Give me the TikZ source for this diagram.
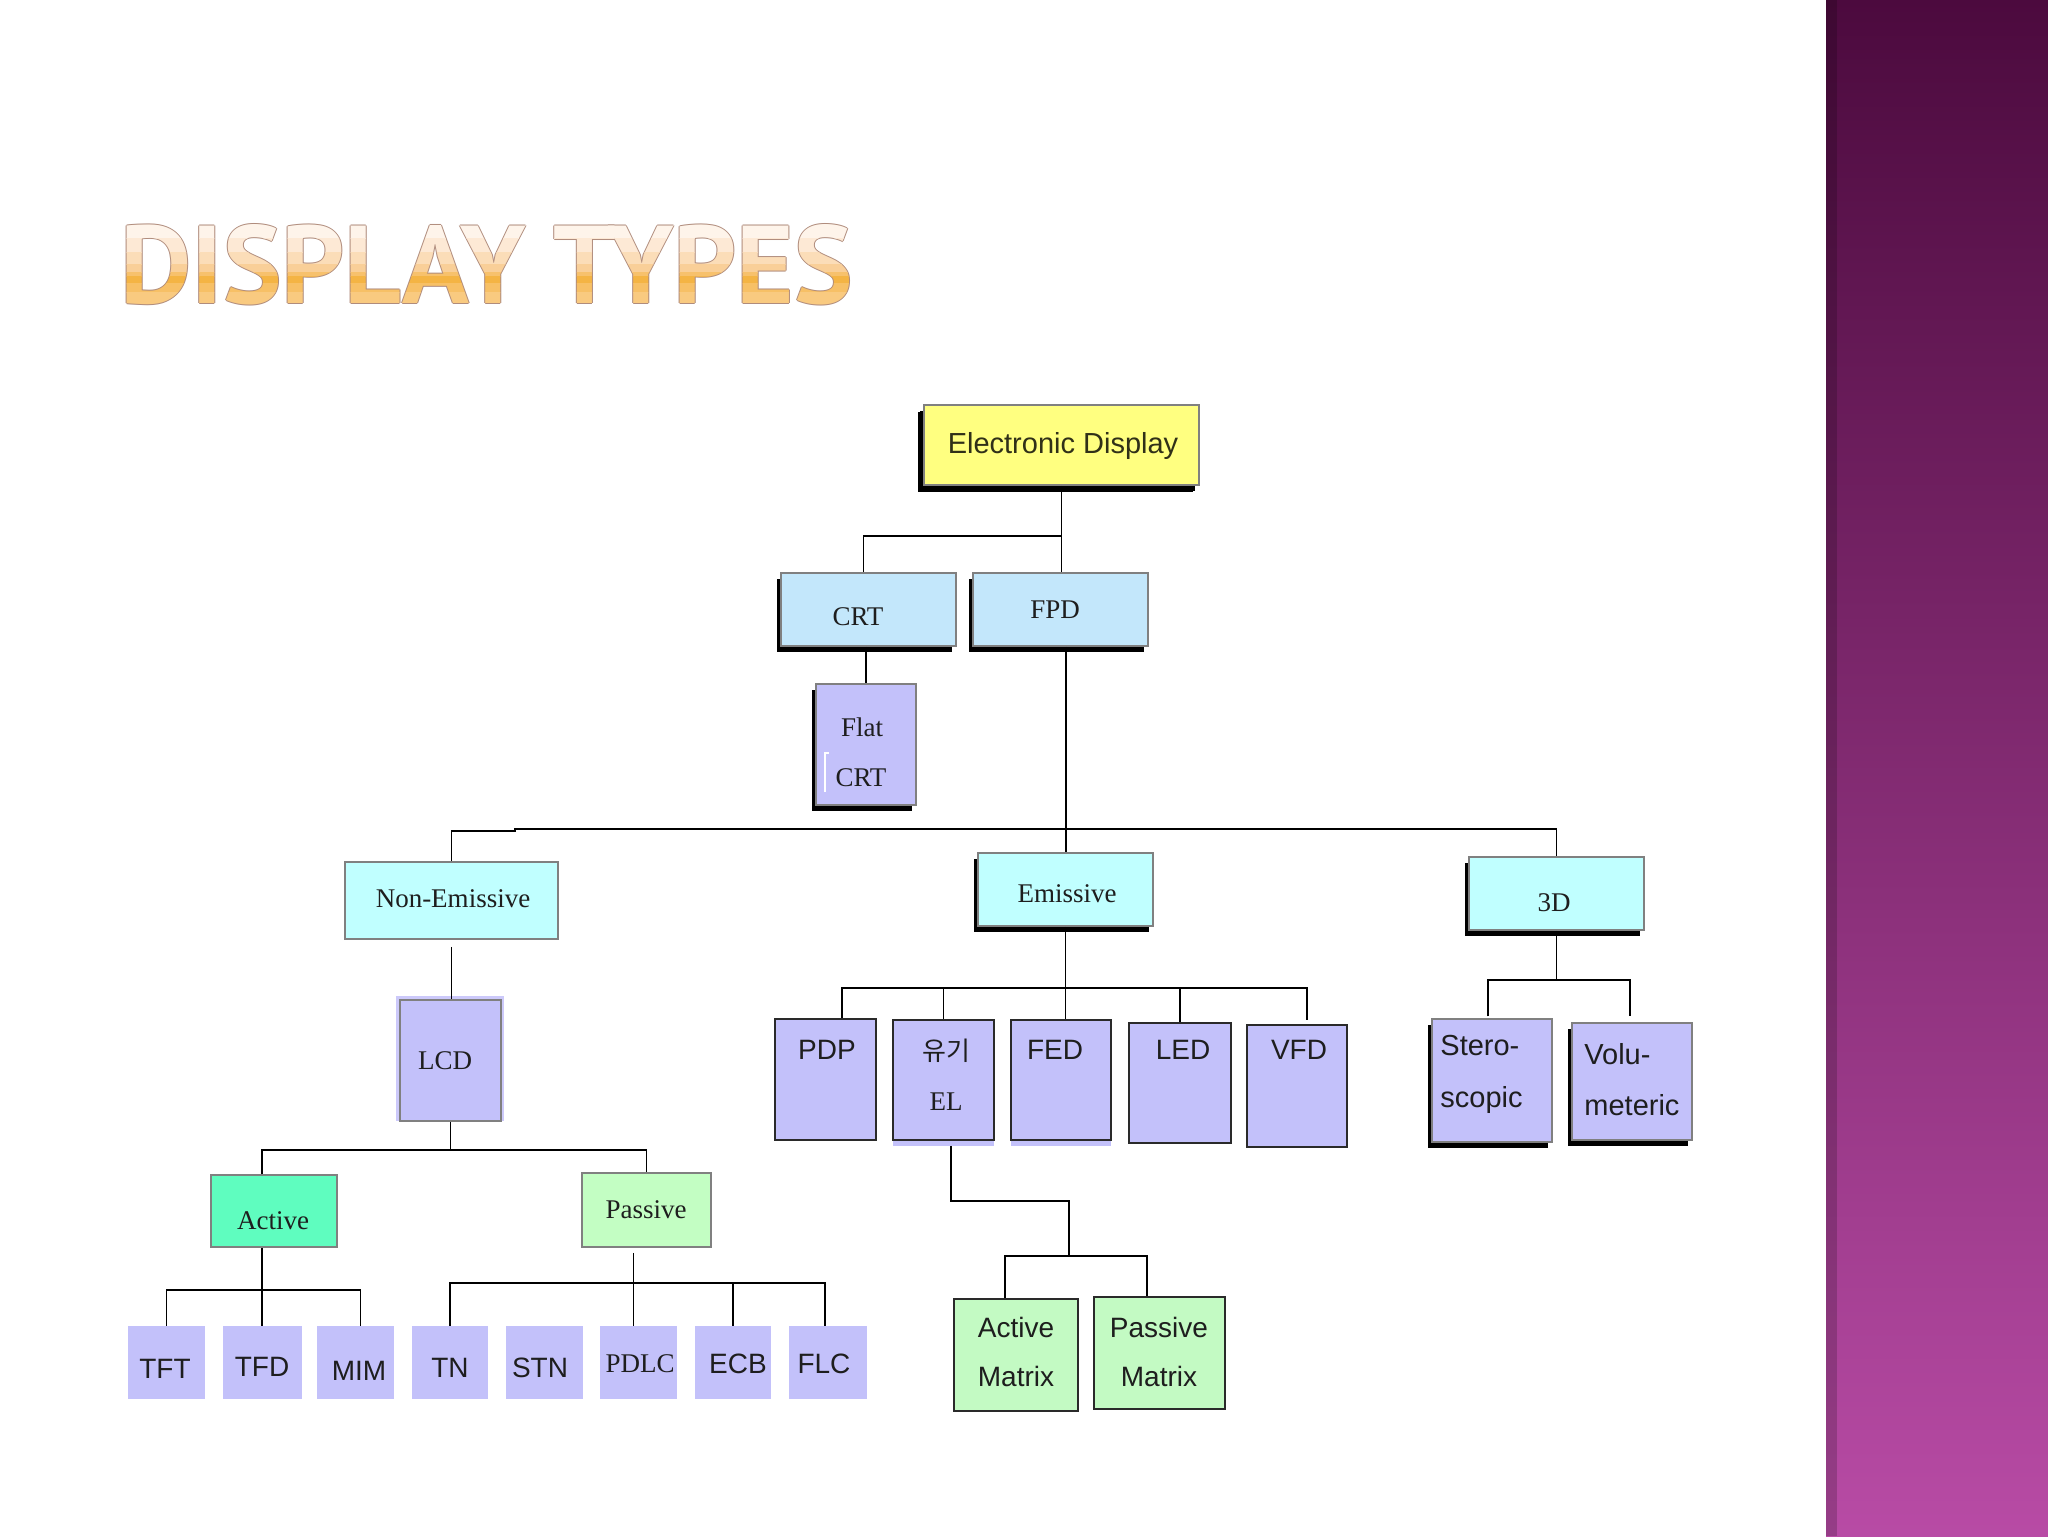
\documentclass[tikz,border=0pt]{standalone}
\usepackage{fontspec}
\usepackage{graphicx}
\setmainfont{Liberation Serif}
\newfontfamily\sansf{Liberation Sans}
\newfontfamily\titlef{PT Sans}
\newfontfamily\krf{Noto Sans CJK KR}
\usetikzlibrary{fit,shadows,calc}

\definecolor{edyellow}{HTML}{FFFF80}
\definecolor{crtblue}{HTML}{C3E7FB}
\definecolor{cyanbox}{HTML}{C0FFFF}
\definecolor{lav}{HTML}{C3C1FA}
\definecolor{lavhalo}{HTML}{CCC9FA}
\definecolor{actgreen}{HTML}{5FFDBF}
\definecolor{pasgreen}{HTML}{C3FEC3}
\definecolor{matgreen}{HTML}{C3FAC3}
\definecolor{boxgray}{HTML}{808080}
\definecolor{darkb}{HTML}{2A2A2A}
\definecolor{txt}{HTML}{1E1E1E}
\definecolor{edtxt}{HTML}{303018}
\definecolor{titleedge}{HTML}{B08C7C}
\definecolor{tA}{HTML}{FEF4EA}
\definecolor{tB}{HTML}{FDE9D5}
\definecolor{tC}{HTML}{FBDDB8}
\definecolor{tD}{HTML}{F9CF98}
\definecolor{tE}{HTML}{F7C16C}
\definecolor{tF}{HTML}{F4B444}
\definecolor{tG}{HTML}{F7C066}
\definecolor{tH}{HTML}{F9CA80}
\definecolor{purpTop}{HTML}{4C0A3E}
\definecolor{purpMid}{HTML}{8A3278}
\definecolor{purpBot}{HTML}{B84BA5}

\newcommand\sansl{\sansf\fontsize{14pt}{16pt}\selectfont}
\newcommand\serifl{\rmfamily\fontsize{13.5pt}{16pt}\selectfont}
\newcommand\titletext{\resizebox{366pt}{39.5pt}{\titlef\bfseries DISPLAY TYPES}}

\begin{document}
\begin{tikzpicture}[x=0.5pt,y=-0.5pt,
  box/.style={draw=boxgray, line width=0.75pt, inner sep=0pt},
  dbox/.style={draw=darkb, line width=0.9pt, inner sep=0pt},
  nbox/.style={draw=none, inner sep=0pt},
  shad/.style={drop shadow={shadow xshift=-2pt, shadow yshift=-3pt, opacity=1, fill=black}},
  lab/.style={inner sep=0pt, text height=10pt, text depth=0pt, text=txt},
  sl/.style={lab, font=\sansl},
  rl/.style={lab, font=\serifl, text height=9pt},
  conn/.style={line width=0.9pt, draw=black}]

\useasboundingbox (0,0) rectangle (2048,1536);
\fill[white] (0,0) rectangle (2048,1536);

% right purple band
\shade[top color=purpTop, middle color=purpMid, bottom color=purpBot] (1826,0) rectangle (2048,1536);
\fill[black, opacity=0.18] (1826,0) rectangle (1837,1536);

% title
\foreach \dx/\dy [count=\i] in {-1/0,1/0,0/-1,0/1}{
  \node[anchor=base west, inner sep=0pt, text=titleedge] (tedge\i) at (120+\dx,303+\dy) {\titletext};
}
\foreach \ya/\yb/\c [count=\i] in {195/238/tA, 238/252/tB, 252/264/tC, 264/272/tD, 272/276/tE, 276/283/tF, 283/292/tG, 292/320/tH}{
  \begin{scope}
    \clip (100,\ya) rectangle (900,\yb);
    \node[anchor=base west, inner sep=0pt, text=\c] (tband\i) at (120,303) {\titletext};
  \end{scope}
}

% decorative fills under boxes
\fill[lavhalo] (396,996) rectangle (504,1121);
\fill[lav] (893,1140) rectangle (994,1145.5);
\fill[lav] (1011,1140) rectangle (1111,1145.5);

% boxes
\node[box, fill=edyellow, shad, drop shadow={shadow xshift=-3pt, shadow yshift=-3.5pt, opacity=1, fill=black}, fit={(924,405) (1199,485)}] (ed) {};
\node[box, fill=crtblue, shad, fit={(781,573) (956,646)}] (crt) {};
\node[box, fill=crtblue, shad, fit={(973,573) (1148,646)}] (fpd) {};
\node[box, fill=lav, shad, fit={(816,684) (916,805)}] (flat) {};
\node[box, fill=cyanbox, fit={(345,862) (558,939)}] (nonem) {};
\node[box, fill=lav, fit={(400,1000) (501,1121)}] (lcd) {};
\node[box, fill=cyanbox, shad, fit={(978,853) (1153,926)}] (em) {};
\node[box, fill=cyanbox, shad, fit={(1469,857) (1644,930)}] (td) {};
\node[dbox, fill=lav, fit={(775,1019) (876,1140)}] (pdp) {};
\node[dbox, fill=lav, fit={(893,1020) (994,1140)}] (el) {};
\node[dbox, fill=lav, fit={(1011,1020) (1111,1140)}] (fed) {};
\node[dbox, fill=lav, fit={(1129,1023) (1231,1143)}] (led) {};
\node[dbox, fill=lav, fit={(1247,1025) (1347,1147)}] (vfd) {};
\node[box, fill=lav, shad, fit={(1432,1019) (1552,1142)}] (st) {};
\node[box, fill=lav, shad, fit={(1572,1023) (1692,1140)}] (vo) {};
\node[box, fill=actgreen, fit={(211,1175) (337,1247)}] (act) {};
\node[box, fill=pasgreen, fit={(582,1173) (711,1247)}] (pas) {};
\node[nbox, fill=lav, fit={(128,1326) (205,1399)}] (tft) {};
\node[nbox, fill=lav, fit={(223,1326) (302,1399)}] (tfd) {};
\node[nbox, fill=lav, fit={(317,1326) (394,1399)}] (mim) {};
\node[nbox, fill=lav, fit={(412,1326) (488,1399)}] (tn) {};
\node[nbox, fill=lav, fit={(506,1326) (583,1399)}] (stn) {};
\node[nbox, fill=lav, fit={(600,1326) (677,1399)}] (pdlc) {};
\node[nbox, fill=lav, fit={(695,1326) (771,1399)}] (ecb) {};
\node[nbox, fill=lav, fit={(789,1326) (867,1399)}] (flc) {};
\node[dbox, fill=matgreen, fit={(954,1299) (1078,1411)}] (am) {};
\node[dbox, fill=matgreen, fit={(1094,1297) (1225,1409)}] (pm) {};

% small white mark inside Flat CRT
\draw[white, line width=0.6pt] (829,753) -- (825,753) -- (825,792);

% connectors
\draw[conn] (ed.south) -- (ed.south |- fpd.north);
\draw[conn] ($(ed.south)+(0,50)$) -| ($(crt.north)+(-5,0)$);
\draw[conn] (flat.north |- crt.south) -- (flat.north);
\draw[conn] ($(fpd.south)+(5.5,0)$) -- ++(0,182) coordinate (bus);
\draw[conn] (nonem.north) |- (515,831) -- (515,829) -| (td.north);
\draw[conn] (bus) -- (bus |- em.north);
\draw[conn] ($(nonem.south)+(0,7)$) -- (nonem.south |- lcd.north);
\draw[conn] (lcd.south) -- ++(0,28) coordinate (jl);
\draw[conn] ($(act.north)+(-12,0)$) |- (jl) -| (pas.north);
\draw[conn] ($(act.south)+(-12,0)$) -- ++(0,42) coordinate (ja);
\draw[conn] (tft.north) |- (ja) -| ($(mim.north)+(5,0)$);
\draw[conn] (ja) -- (ja |- tfd.north);
\draw[conn] ($(pas.south)+(-13,5)$) -- ++(0,30) coordinate (jp);
\draw[conn] (tn.north) |- (jp) -| ($(flc.north)+(-3,0)$);
\draw[conn] (jp) -- (jp |- pdlc.north);
\draw[conn] ($(stn.north)+(-3,0)$) -- ($(stn.north)+(-3,0)$ |- jp);
\draw[conn] (ecb.north) -- (ecb.north |- jp);
\path ($(em.south)+(0,61)$) coordinate (je);
\draw[conn] (em.south) -- (em.south |- fed.north);
\draw[conn] ($(pdp.north)+(16.5,0)$) |- (je) -| ($(vfd.north)+(10,-4)$);
\draw[conn] (el.north) -- (el.north |- je);
\draw[conn] (led.north) -- (led.north |- je);
\coordinate (jm) at (1069,1256);
\draw[conn] ($(el.south)+(7.5,5)$) |- ($(jm)+(0,-55)$) -- (jm);
\draw[conn] ($(am.north)+(-11,0)$) |- (jm) -| ($(pm.north)+(-12.5,0)$);
\draw[conn] (td.south) -- ++(0,49) coordinate (j3);
\draw[conn] ($(st.north)+(-4,-2)$) |- (j3) -| ($(vo.north)+(-2,-6)$);

% labels
\node[sl, font=\sansf\fontsize{14.5pt}{16pt}\selectfont, text=edtxt] (t-ed) at (1063,443) {Electronic Display};
\node[rl] (t-crt) at (858,616) {CRT};
\node[rl] (t-fpd) at (1055,609) {FPD};
\node[rl] (t-flat1) at (862,727) {Flat};
\node[rl] (t-flat2) at (861,777) {CRT};
\node[rl] (t-non) at (453,898) {Non-Emissive};
\node[rl] (t-lcd) at (445,1060) {LCD};
\node[rl] (t-em) at (1067,893) {Emissive};
\node[rl] (t-3d) at (1554,902) {3D};
\node[sl] (t-pdp) at (827,1049) {PDP};
\node[lab, font=\krf\fontsize{13pt}{15pt}\selectfont] (t-el1) at (946,1050) {유기};
\node[rl] (t-el2) at (946,1101) {EL};
\node[sl] (t-fed) at (1055,1049) {FED};
\node[sl] (t-led) at (1183,1049) {LED};
\node[sl] (t-vfd) at (1299,1049) {VFD};
\node[sl, font=\sansf\fontsize{14.5pt}{16pt}\selectfont, anchor=west] (t-st1) at (1440,1045) {Stero-};
\node[sl, font=\sansf\fontsize{14.5pt}{16pt}\selectfont, anchor=west] (t-st2) at (1440,1097) {scopic};
\node[sl, font=\sansf\fontsize{14.5pt}{16pt}\selectfont, anchor=west] (t-vo1) at (1584,1054) {Volu-};
\node[sl, font=\sansf\fontsize{14.5pt}{16pt}\selectfont, anchor=west] (t-vo2) at (1584,1105) {meteric};
\node[rl] (t-act) at (273,1220) {Active};
\node[rl] (t-pas) at (646,1209) {Passive};
\node[sl] (t-tft) at (165,1368) {TFT};
\node[sl] (t-tfd) at (262,1366) {TFD};
\node[sl] (t-mim) at (359,1370) {MIM};
\node[sl] (t-tn) at (450,1367) {TN};
\node[sl] (t-stn) at (540,1367) {STN};
\node[rl] (t-pdlc) at (640,1363) {PDLC};
\node[sl] (t-ecb) at (738,1363) {ECB};
\node[sl] (t-flc) at (824,1363) {FLC};
\node[sl] (t-am1) at (1016,1327) {Active};
\node[sl] (t-am2) at (1016,1376) {Matrix};
\node[sl] (t-pm1) at (1159,1327) {Passive};
\node[sl] (t-pm2) at (1159,1376) {Matrix};
\end{tikzpicture}
\end{document}
